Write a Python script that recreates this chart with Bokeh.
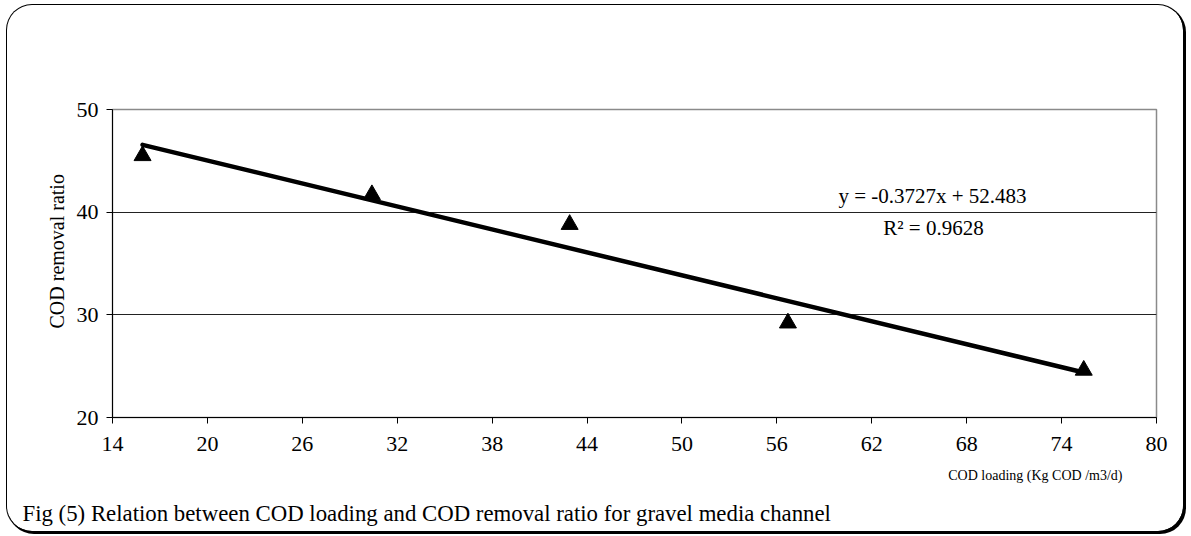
from bokeh.plotting import figure
from bokeh.models import Range1d, FixedTicker, Label, Title
from bokeh.embed import file_html
from bokeh.resources import INLINE

# ---- data ----
cod_loading = [15.9, 30.4, 42.9, 56.7, 75.4]
cod_removal = [45.5, 41.7, 38.8, 29.2, 24.6]
x_ticks = [14, 20, 26, 32, 38, 44, 50, 56, 62, 68, 74, 80]
y_ticks = [20, 30, 40, 50]
trend_slope = -0.3727
trend_intercept = 52.483
trend_r2 = 0.9628
equation_text = "y = -0.3727x + 52.483"
r2_text = "R² = 0.9628"
x_title = "COD loading (Kg COD /m3/d)"
y_title = "COD removal ratio"
caption = "Fig (5) Relation between COD loading and COD removal ratio for gravel media channel"

# ---- layout (page pixel positions of the plot frame) ----
OX, OY = 7, 5                   # top-left of the rounded outer box on the page
W, H = 1176, 526                # figure (outer box) size
FL, FT, FR, FB = 112, 109, 1156, 417   # plot frame on the page
X0, X1, Y0, Y1 = 14, 80, 20, 50
FONT = "Liberation Serif"

def fx(px):
    return X0 + (px - FL) / (FR - FL) * (X1 - X0)

def fy(py):
    return Y1 - (py - FT) / (FB - FT) * (Y1 - Y0)

p = figure(width=W, height=H, x_range=Range1d(X0, X1), y_range=Range1d(Y0, Y1),
           output_backend="svg", toolbar_location=None,
           min_border_left=FL - OX, min_border_right=(OX + W) - FR,
           min_border_top=FT - OY, min_border_bottom=(OY + H) - FB)
p.background_fill_alpha = 0.0
p.border_fill_alpha = 0.0
p.outline_line_color = "#8a8a8a"
p.outline_line_width = 1.5
p.styles = {
    "margin-left": f"{OX}px",
    "margin-top": f"{OY}px",
    "border-radius": "25px",
    "box-shadow": "0 0 0 1px #000, 2px 2px 0 1px #000",
}

# axes
for ax in (p.xaxis, p.yaxis):
    ax.axis_line_color = "black"
    ax.axis_line_width = 1
    ax.major_tick_in = 0
    ax.major_tick_out = 6
    ax.major_tick_line_color = "black"
    ax.minor_tick_line_color = None
    ax.major_label_text_font = FONT
    ax.major_label_text_font_size = "22px"
    ax.major_label_text_color = "black"
p.xaxis.ticker = FixedTicker(ticks=x_ticks)
p.yaxis.ticker = FixedTicker(ticks=y_ticks)
p.xaxis.major_label_standoff = 13
p.yaxis.major_label_standoff = 8

p.xgrid.visible = False
p.ygrid.ticker = FixedTicker(ticks=[30, 40])
p.ygrid.grid_line_color = "#222222"
p.ygrid.grid_line_width = 1

# data markers
p.scatter(cod_loading, cod_removal, marker="triangle", size=17,
          fill_color="black", line_color="black")

# trend line (from the displayed equation)
tx = [min(cod_loading), max(cod_loading)]
ty = [trend_slope * v + trend_intercept for v in tx]
p.line(tx, ty, line_color="black", line_width=4.5, line_cap="round")

# equation texts
p.add_layout(Label(x=fx(932), y=fy(195), text=equation_text, text_align="center",
                   text_baseline="alphabetic", text_font=FONT, text_font_size="21px", text_color="black"))
p.add_layout(Label(x=fx(933), y=fy(227), text=r2_text, text_align="center",
                   text_baseline="alphabetic", text_font=FONT, text_font_size="21px", text_color="black"))

# y-axis title (left panel), x-axis title and caption (below panels)
ty_title = Title(text=y_title, align="left", offset=89, text_font=FONT, text_font_size="20px",
                 text_font_style="normal", text_color="#000000", standoff=12)
p.add_layout(ty_title, "left")
t1 = Title(text=x_title, align="right", offset=34, text_font=FONT, text_font_size="14px",
           text_font_style="normal", text_color="#000000", standoff=28, vertical_align="top")
t2 = Title(text=caption, align="left", offset=-90, text_font=FONT, text_font_size="22.8px",
           text_font_style="normal", text_color="#000000", standoff=0)
p.add_layout(t1, "below")
p.add_layout(t2, "below")

open("out.html", "w").write(file_html(p, INLINE))
